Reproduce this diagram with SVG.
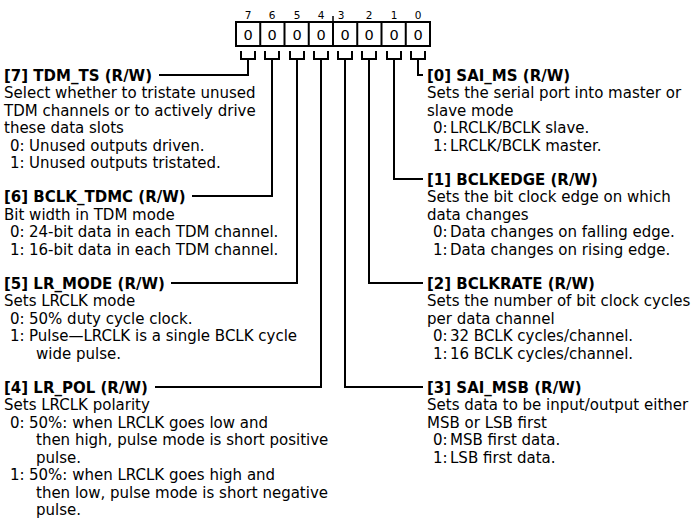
<svg xmlns="http://www.w3.org/2000/svg" width="699" height="524" viewBox="0 0 699 524">
<style>
.t{font-family:"DejaVu Sans",Verdana,sans-serif;font-size:15px;fill:#000}
.h{font-family:"DejaVu Sans",Verdana,sans-serif;font-size:15px;font-weight:bold;fill:#000}
.bn{font-family:"DejaVu Sans",Verdana,sans-serif;font-size:10.5px;fill:#000;text-anchor:middle}
.cv{font-family:"DejaVu Sans",Verdana,sans-serif;font-size:14.5px;fill:#000;text-anchor:middle}
.ln{fill:none;stroke:#000;stroke-width:2}
</style>
<rect width="699" height="524" fill="#fff"/>
<g id="register">
<rect class="ln" x="236" y="22" width="194" height="24"/>
<path class="ln" d="M260.25 22V46M284.5 22V46M308.75 22V46M333 22V46M357.25 22V46M381.5 22V46M405.75 22V46"/>
<path d="M333 16V22" stroke="#000" stroke-width="1.5"/>
<text class="bn" x="248" y="19">7</text>
<text class="bn" x="272" y="19">6</text>
<text class="bn" x="297" y="19">5</text>
<text class="bn" x="321" y="19">4</text>
<text class="bn" x="341" y="19">3</text>
<text class="bn" x="369" y="19">2</text>
<text class="bn" x="394" y="19">1</text>
<text class="bn" x="418" y="19">0</text>
<text class="cv" x="248" y="39.5">0</text>
<text class="cv" x="272" y="39.5">0</text>
<text class="cv" x="297" y="39.5">0</text>
<text class="cv" x="321" y="39.5">0</text>
<text class="cv" x="345" y="39.5">0</text>
<text class="cv" x="369" y="39.5">0</text>
<text class="cv" x="394" y="39.5">0</text>
<text class="cv" x="418" y="39.5">0</text>
</g>
<g id="connectors">
<path class="ln" d="M241 51V59H255V51M248 59V75H159"/>
<path class="ln" d="M265 51V59H279V51M272 59V196H192"/>
<path class="ln" d="M290 51V59H304V51M297 59V283H171"/>
<path class="ln" d="M314 51V59H328V51M321 59V387H155"/>
<path class="ln" d="M338 51V59H352V51M345 59V387H423"/>
<path class="ln" d="M362 51V59H376V51M369 59V283H423"/>
<path class="ln" d="M387 51V59H401V51M394 59V179H423"/>
<path class="ln" d="M411 51V59H425V51M418 59V75H423"/>
</g>
<g id="bit7">
<text class="h" x="4" y="80.5">[7] TDM_TS (R/W)</text>
<text class="t" x="4" y="98">Select whether to tristate unused</text>
<text class="t" x="4" y="115.5">TDM channels or to actively drive</text>
<text class="t" x="4" y="133">these data slots</text>
<text class="t" y="150.5"><tspan x="10">0:</tspan><tspan x="29">Unused outputs driven.</tspan></text>
<text class="t" y="168"><tspan x="10">1:</tspan><tspan x="29">Unused outputs tristated.</tspan></text>
</g>
<g id="bit6">
<text class="h" x="4" y="201.5">[6] BCLK_TDMC (R/W)</text>
<text class="t" x="4" y="219.5">Bit width in TDM mode</text>
<text class="t" y="237"><tspan x="10">0:</tspan><tspan x="29">24-bit data in each TDM channel.</tspan></text>
<text class="t" y="254.5"><tspan x="10">1:</tspan><tspan x="29">16-bit data in each TDM channel.</tspan></text>
</g>
<g id="bit5">
<text class="h" x="4" y="288.5">[5] LR_MODE (R/W)</text>
<text class="t" x="4" y="306">Sets LRCLK mode</text>
<text class="t" y="323.5"><tspan x="10">0:</tspan><tspan x="29">50% duty cycle clock.</tspan></text>
<text class="t" y="341"><tspan x="10">1:</tspan><tspan x="29">Pulse—LRCLK is a single BCLK cycle</tspan></text>
<text class="t" x="36" y="358.5">wide pulse.</text>
</g>
<g id="bit4">
<text class="h" x="4" y="392.5">[4] LR_POL (R/W)</text>
<text class="t" x="4" y="410">Sets LRCLK polarity</text>
<text class="t" y="427.5"><tspan x="10">0:</tspan><tspan x="29">50%: when LRCLK goes low and</tspan></text>
<text class="t" x="36" y="445">then high, pulse mode is short positive</text>
<text class="t" x="36" y="462.5">pulse.</text>
<text class="t" y="480"><tspan x="10">1:</tspan><tspan x="29">50%: when LRCLK goes high and</tspan></text>
<text class="t" x="36" y="497.5">then low, pulse mode is short negative</text>
<text class="t" x="36" y="515">pulse.</text>
</g>
<g id="bit0">
<text class="h" x="427" y="80.5">[0] SAI_MS (R/W)</text>
<text class="t" x="427" y="98">Sets the serial port into master or</text>
<text class="t" x="427" y="115.5">slave mode</text>
<text class="t" y="133"><tspan x="433">0:</tspan><tspan x="450">LRCLK/BCLK slave.</tspan></text>
<text class="t" y="150.5"><tspan x="433">1:</tspan><tspan x="450">LRCLK/BCLK master.</tspan></text>
</g>
<g id="bit1">
<text class="h" x="427" y="184.5">[1] BCLKEDGE (R/W)</text>
<text class="t" x="427" y="202">Sets the bit clock edge on which</text>
<text class="t" x="427" y="219.5">data changes</text>
<text class="t" y="237"><tspan x="433">0:</tspan><tspan x="450">Data changes on falling edge.</tspan></text>
<text class="t" y="254.5"><tspan x="433">1:</tspan><tspan x="450">Data changes on rising edge.</tspan></text>
</g>
<g id="bit2">
<text class="h" x="427" y="288.5">[2] BCLKRATE (R/W)</text>
<text class="t" x="427" y="306">Sets the number of bit clock cycles</text>
<text class="t" x="427" y="323.5">per data channel</text>
<text class="t" y="341"><tspan x="433">0:</tspan><tspan x="450">32 BCLK cycles/channel.</tspan></text>
<text class="t" y="358.5"><tspan x="433">1:</tspan><tspan x="450">16 BCLK cycles/channel.</tspan></text>
</g>
<g id="bit3">
<text class="h" x="427" y="392.5">[3] SAI_MSB (R/W)</text>
<text class="t" x="427" y="410">Sets data to be input/output either</text>
<text class="t" x="427" y="427.5">MSB or LSB first</text>
<text class="t" y="445"><tspan x="433">0:</tspan><tspan x="450">MSB first data.</tspan></text>
<text class="t" y="462.5"><tspan x="433">1:</tspan><tspan x="450">LSB first data.</tspan></text>
</g>
</svg>
